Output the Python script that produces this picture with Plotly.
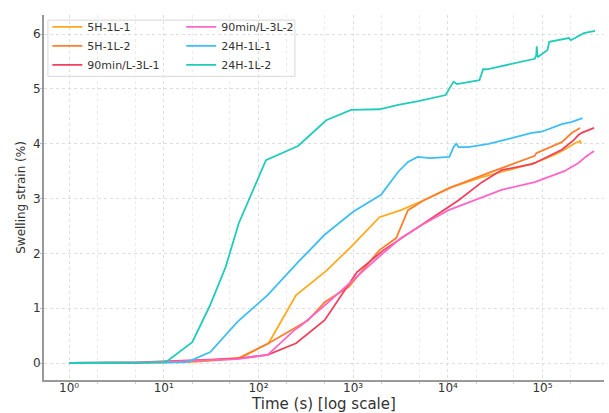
import plotly.graph_objects as go

# ---- data (time in s, swelling strain in %) ----
t_5h1 = [1, 2, 3, 5, 7, 10, 15, 20, 30, 60, 128, 250, 520, 950, 1900, 3200, 5600, 10200, 23000, 50000, 83000, 135000, 170000, 220000, 250000, 255000]
s_5h1 = [0, 0, 0, 0, 0.01, 0.01, 0.02, 0.02, 0.04, 0.08, 0.36, 1.24, 1.68, 2.12, 2.66, 2.79, 2.97, 3.19, 3.39, 3.55, 3.65, 3.80, 3.89, 4.01, 4.05, 4.00]

t_5h2 = [1, 2, 3, 5, 7, 10, 15, 20, 30, 65, 128, 335, 500, 900, 1900, 2850, 3800, 5600, 11000, 27000, 83000, 86000, 160000, 205000, 250000]
s_5h2 = [0, 0, 0, 0, 0.01, 0.01, 0.02, 0.03, 0.05, 0.10, 0.36, 0.78, 1.11, 1.39, 2.06, 2.28, 2.79, 2.97, 3.21, 3.47, 3.78, 3.83, 4.03, 4.20, 4.29]

t_90a = [1, 2, 3, 5, 7, 10, 15, 20, 30, 60, 125, 250, 500, 950, 1100, 2100, 5600, 10200, 13000, 23000, 37000, 77000, 83000, 160000, 215000, 240000, 260000, 350000]
s_90a = [0, 0, 0, 0, 0.02, 0.03, 0.04, 0.05, 0.06, 0.08, 0.15, 0.36, 0.78, 1.51, 1.66, 2.06, 2.55, 2.85, 2.97, 3.30, 3.52, 3.63, 3.65, 3.89, 4.07, 4.16, 4.20, 4.29]

t_90b = [1, 2, 3, 5, 7, 10, 15, 20, 30, 60, 125, 240, 280, 500, 950, 1850, 3200, 5600, 10200, 19000, 37000, 83000, 170000, 240000, 285000, 350000]
s_90b = [0, 0, 0, 0, 0.01, 0.02, 0.03, 0.04, 0.05, 0.07, 0.15, 0.60, 0.68, 1.05, 1.48, 1.93, 2.28, 2.54, 2.79, 2.97, 3.16, 3.30, 3.50, 3.65, 3.76, 3.87]

t_24a = [1, 2, 3, 5, 7, 10, 15, 18, 31, 60, 125, 262, 500, 1000, 1970, 3000, 3800, 4800, 6500, 10400, 11500, 12300, 13000, 16500, 27000, 44000, 77000, 98000, 160000, 205000, 265000]
s_24a = [0, 0, 0, 0, 0, 0.01, 0.01, 0.02, 0.20, 0.75, 1.24, 1.84, 2.34, 2.76, 3.07, 3.49, 3.67, 3.76, 3.74, 3.76, 3.94, 4.00, 3.94, 3.94, 4.00, 4.09, 4.20, 4.22, 4.36, 4.40, 4.47]

t_24b = [1, 2, 3, 5, 7, 10, 11.2, 20, 30.6, 45, 62, 120, 262, 520, 950, 1900, 3000, 4900, 9500, 10500, 11500, 12500, 21600, 23600, 26000, 83000, 86000, 87000, 89000, 113000, 118000, 190000, 200000, 273000, 360000]
s_24b = [0, 0, 0, 0, 0.01, 0.02, 0.05, 0.38, 1.04, 1.75, 2.55, 3.70, 3.96, 4.43, 4.62, 4.63, 4.71, 4.78, 4.89, 5.02, 5.13, 5.09, 5.16, 5.36, 5.36, 5.55, 5.62, 5.78, 5.58, 5.71, 5.86, 5.93, 5.89, 6.02, 6.06]

names = ["5H-1L-1", "5H-1L-2", "90min/L-3L-1", "90min/L-3L-2", "24H-1L-1", "24H-1L-2"]
colors = ["#FFAA1E", "#FF7F2E", "#F2405C", "#FF66C8", "#3DBEF5", "#22CCB8"]
series = [(t_5h1, s_5h1), (t_5h2, s_5h2), (t_90a, s_90a), (t_90b, s_90b), (t_24a, s_24a), (t_24b, s_24b)]
legend_ids = ["legend", "legend", "legend", "legend2", "legend2", "legend2"]

decades = [1, 10, 100, 1000, 10000, 100000]
decade_labels = ["10⁰", "10¹", "10²", "10³", "10⁴", "10⁵"]

fig = go.Figure()
for (t, s), n, c, lg in zip(series, names, colors, legend_ids):
    fig.add_trace(go.Scatter(x=t, y=s, mode="lines", name=n, legend=lg,
                             line=dict(color=c, width=1.8)))

font_family = "DejaVu Sans"
leg_common = dict(yanchor="top", xanchor="left", bgcolor="rgba(0,0,0,0)",
                  font=dict(size=11, color="#333333"), tracegroupgap=0, itemwidth=30)
fig.update_layout(
    width=609, height=413,
    margin=dict(l=44, r=5, t=15, b=33),
    paper_bgcolor="white", plot_bgcolor="white",
    font=dict(family=font_family, size=12, color="#333333"),
    showlegend=True,
    legend=dict(x=0.006, y=1.007, **leg_common),
    legend2=dict(x=0.245, y=1.007, **leg_common),
    shapes=[dict(type="rect", xref="paper", yref="paper",
                 x0=0.007, x1=0.448, y0=0.832, y1=0.986,
                 line=dict(color="#d8d8d8", width=1),
                 fillcolor="rgba(255,255,255,0.85)", layer="between")],
)

fig.update_xaxes(
    type="log", range=[-0.265, 5.65],
    tickvals=decades, ticktext=decade_labels,
    tickfont=dict(size=12, color="#333333"),
    ticks="outside", ticklen=2, tickcolor="#bbbbbb",
    ticklabelstandoff=-6,
    showline=True, linecolor="#999999", linewidth=2, mirror=False,
    showgrid=True, gridcolor="#dddddd", griddash="dot", gridwidth=1,
    minor=dict(showgrid=True, gridcolor="#ececec", griddash="dot", gridwidth=1,
               ticks="outside", ticklen=2, tickcolor="#cccccc"),
    zeroline=False, automargin=False,
    title=dict(text="Time (s) [log scale]", font=dict(size=15, color="#333333"), standoff=3),
)
fig.update_yaxes(
    range=[-0.31, 6.35],
    tickvals=[0, 1, 2, 3, 4, 5, 6],
    tickfont=dict(size=12, color="#333333"),
    ticks="outside", ticklen=2, tickcolor="#bbbbbb",
    ticklabelstandoff=-3,
    showline=True, linecolor="#999999", linewidth=2, mirror=False,
    showgrid=True, gridcolor="#dddddd", griddash="dot", gridwidth=1,
    zeroline=False, automargin=False,
    title=dict(text="Swelling strain (%)", font=dict(size=12, color="#333333"), standoff=5),
)

fig.write_html("out.html")
